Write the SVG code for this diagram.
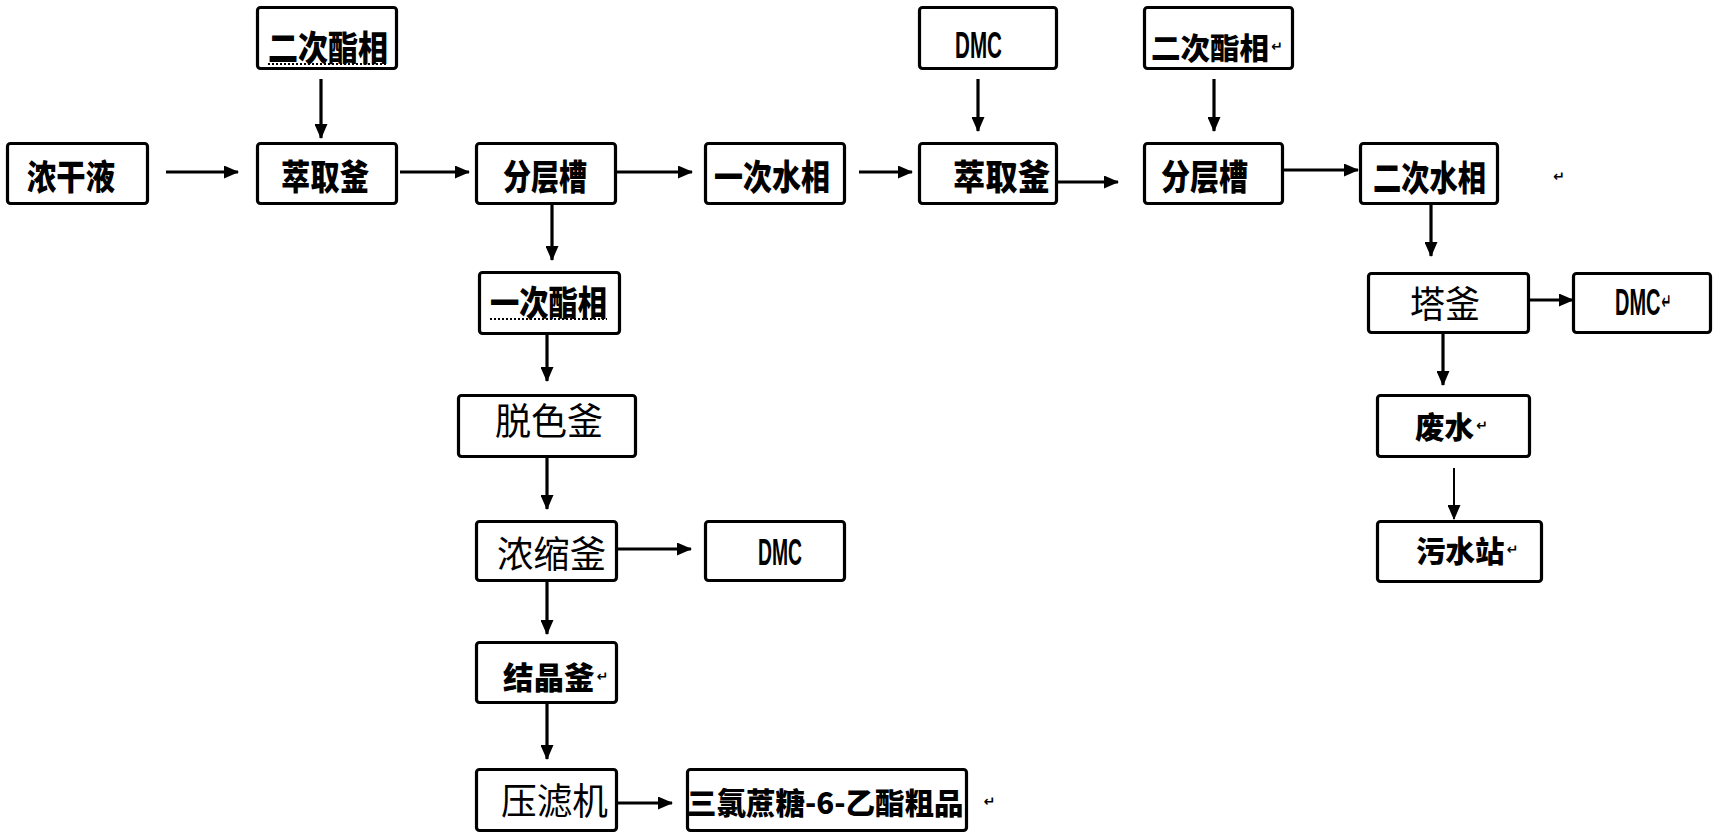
<svg xmlns="http://www.w3.org/2000/svg" width="1720" height="837" viewBox="0 0 1720 837">
<defs>
<marker id="ah" markerUnits="userSpaceOnUse" markerWidth="15" markerHeight="13" refX="14" refY="6.5" orient="auto">
<path d="M0,0 L15,6.5 L0,13 z" fill="#000"/>
</marker>
<style>
rect.b{fill:#fff;stroke:#000;stroke-width:3.2}
.t{font-family:"Noto Sans CJK SC","Noto Sans",sans-serif;font-size:35px;font-weight:900;fill:#000;dominant-baseline:central}
.r{font-family:"Noto Sans CJK SC","Noto Sans",sans-serif;font-size:37px;font-weight:400;fill:#000;dominant-baseline:central}
.d{font-family:"Liberation Sans",Arial,sans-serif;font-size:37px;font-weight:700;fill:#000;dominant-baseline:central}
.m{font-family:"DejaVu Sans",sans-serif;font-size:14px;font-weight:700}
.c line{stroke:#000;stroke-width:3.2;marker-end:url(#ah)}
.w{stroke:#000;stroke-width:2;stroke-dasharray:2 2;fill:none}
</style>
</defs>
<rect width="1720" height="837" fill="#fff"/>

<g id="feed"><rect class="b" x="7.5" y="143.5" width="140" height="60" rx="3"/><text class="t" x="27" y="174" textLength="88" lengthAdjust="spacingAndGlyphs">浓干液</text></g>
<g id="ester2a"><rect class="b" x="257.5" y="7.5" width="139" height="61" rx="3"/><text class="t" x="268" y="45" textLength="120" lengthAdjust="spacingAndGlyphs">二次酯相</text><line class="w" x1="268" y1="64" x2="388" y2="64"/></g>
<g id="extract1"><rect class="b" x="257.5" y="143.5" width="139" height="60" rx="3"/><text class="t" x="281" y="174" textLength="88" lengthAdjust="spacingAndGlyphs">萃取釜</text></g>
<g id="sep1"><rect class="b" x="476.5" y="143.5" width="139" height="60" rx="3"/><text class="t" x="503" y="174" textLength="84" lengthAdjust="spacingAndGlyphs">分层槽</text></g>
<g id="water1"><rect class="b" x="705.5" y="143.5" width="139" height="60" rx="3"/><text class="t" x="714" y="174" textLength="116" lengthAdjust="spacingAndGlyphs">一次水相</text></g>
<g id="dmc1"><rect class="b" x="919.5" y="7.5" width="137" height="61" rx="3"/><text class="d" x="955" y="45" textLength="47" lengthAdjust="spacingAndGlyphs">DMC</text></g>
<g id="extract2"><rect class="b" x="919.5" y="143.5" width="137" height="60" rx="3"/><text class="t" x="953" y="174" textLength="97" lengthAdjust="spacingAndGlyphs">萃取釜</text></g>
<g id="ester2b"><rect class="b" x="1144.5" y="7.5" width="148" height="61" rx="3"/><text class="t" x="1151" y="46" style="font-size:29.5px">二次酯相<tspan class="m" dx="2">↵</tspan></text></g>
<g id="sep2"><rect class="b" x="1144.5" y="143.5" width="138" height="60" rx="3"/><text class="t" x="1161" y="174" textLength="87" lengthAdjust="spacingAndGlyphs">分层槽</text></g>
<g id="water2"><rect class="b" x="1360.5" y="143.5" width="137" height="60" rx="3"/><text class="t" x="1373" y="175" textLength="113" lengthAdjust="spacingAndGlyphs">二次水相</text></g>
<g id="stray1"><text class="m" x="1553" y="181">↵</text></g>
<g id="ester1"><rect class="b" x="479.5" y="272.5" width="140" height="61" rx="3"/><text class="t" x="490" y="300" textLength="117" lengthAdjust="spacingAndGlyphs">一次酯相</text><line class="w" x1="490" y1="319" x2="607" y2="319"/></g>
<g id="decolor"><rect class="b" x="458.5" y="395.5" width="177" height="61" rx="3"/><text class="r" x="495" y="419" textLength="108" lengthAdjust="spacingAndGlyphs">脱色釜</text></g>
<g id="conc"><rect class="b" x="476.5" y="521.5" width="140" height="59" rx="3"/><text class="r" x="497" y="552" textLength="109" lengthAdjust="spacingAndGlyphs">浓缩釜</text></g>
<g id="dmc2"><rect class="b" x="705.5" y="521.5" width="139" height="59" rx="3"/><text class="d" x="758" y="552" textLength="44" lengthAdjust="spacingAndGlyphs">DMC</text></g>
<g id="cryst"><rect class="b" x="476.5" y="642.5" width="140" height="60" rx="3"/><text class="t" x="503" y="676" style="font-size:30.5px">结晶釜<tspan class="m" dx="2">↵</tspan></text></g>
<g id="filter"><rect class="b" x="476.5" y="769.5" width="140" height="61" rx="3"/><text class="r" x="501" y="799" textLength="107" lengthAdjust="spacingAndGlyphs">压滤机</text></g>
<g id="product"><rect class="b" x="687.5" y="769.5" width="279" height="61" rx="3"/><text class="t" x="687" y="801" style="font-size:29.5px">三氯蔗糖-6-乙酯粗品<tspan class="m" dx="20">↵</tspan></text></g>
<g id="tower"><rect class="b" x="1368.5" y="273.5" width="160" height="59" rx="3"/><text class="r" x="1410" y="302" textLength="70" lengthAdjust="spacingAndGlyphs">塔釜</text></g>
<g id="dmc3"><rect class="b" x="1573.5" y="273.5" width="137" height="59" rx="3"/><text class="d" transform="translate(1615,302) scale(0.54,1)" x="0" y="0">DMC<tspan class="m" dx="2" style="font-size:22px">↵</tspan></text></g>
<g id="waste"><rect class="b" x="1377.5" y="395.5" width="152" height="61" rx="3"/><text class="t" x="1415" y="425" style="font-size:29.5px">废水<tspan class="m" dx="2">↵</tspan></text></g>
<g id="station"><rect class="b" x="1377.5" y="521.5" width="164" height="60" rx="3"/><text class="t" x="1416" y="549" style="font-size:29.5px">污水站<tspan class="m" dx="2">↵</tspan></text></g>

<g id="connectors" class="c">
<line x1="166" y1="172" x2="238" y2="172"/>
<line x1="400" y1="172" x2="469" y2="172"/>
<line x1="617" y1="172" x2="692" y2="172"/>
<line x1="859" y1="172" x2="912" y2="172"/>
<line x1="1058" y1="182" x2="1118" y2="182"/>
<line x1="1284" y1="170" x2="1358" y2="170"/>
<line x1="321" y1="79" x2="321" y2="138"/>
<line x1="978" y1="79" x2="978" y2="131"/>
<line x1="1214" y1="79" x2="1214" y2="131"/>
<line x1="552" y1="205" x2="552" y2="260"/>
<line x1="547" y1="335" x2="547" y2="381"/>
<line x1="547" y1="458" x2="547" y2="509"/>
<line x1="618" y1="549" x2="691" y2="549"/>
<line x1="547" y1="582" x2="547" y2="634"/>
<line x1="547" y1="704" x2="547" y2="759"/>
<line x1="618" y1="803" x2="672" y2="803"/>
<line x1="1431" y1="205" x2="1431" y2="256"/>
<line x1="1530" y1="300" x2="1573" y2="300"/>
<line x1="1443" y1="334" x2="1443" y2="385"/>
<line x1="1454" y1="468" x2="1454" y2="519" style="stroke-width:2"/>
</g>
</svg>
